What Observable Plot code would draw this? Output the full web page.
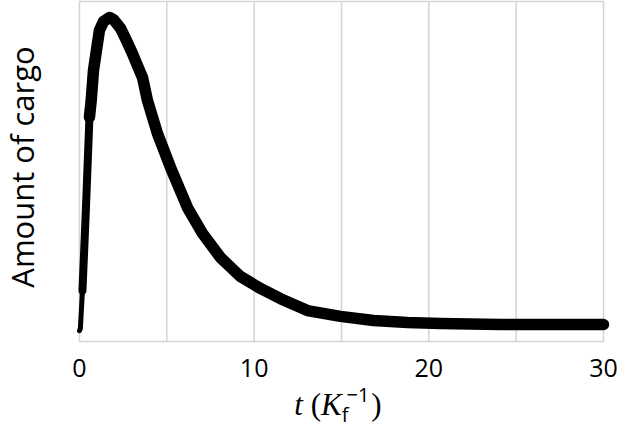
<!DOCTYPE html>
<html>
<head>
<meta charset="utf-8">
<script src="https://cdn.jsdelivr.net/npm/d3@7"></script>
<script src="https://cdn.jsdelivr.net/npm/@observablehq/plot@0.6"></script>
<style>
  html, body { margin: 0; padding: 0; background: #fff; }
  #chart svg { display: block; }
</style>
</head>
<body>
<div id="chart"></div>
<script>
// time (in units of K_f^-1)
const times = [0, 0.05, 0.17, 0.34, 0.57, 0.67, 0.8, 0.97, 1.14, 1.37, 1.72, 1.95, 2.35, 2.69, 3.03, 3.61, 3.89, 4.46, 5.21, 6.18, 7.04, 8.07, 9.22, 10.36, 11.51, 13.05, 14.94, 16.83, 18.77, 20.66, 24.1, 30];
// amount of cargo (arbitrary units)
const amount = [3.2, 3.8, 15, 35.6, 66, 70.9, 79.7, 85.6, 91.5, 94.1, 95.3, 94.7, 92.1, 88.5, 84.7, 77.6, 70.9, 61.2, 51.2, 39.4, 31.8, 24.7, 19.1, 15.6, 12.6, 9.1, 7.4, 6.2, 5.6, 5.3, 5.0, 5.0];
const xTicks = [0, 10, 20, 30];
const xGrid = [5, 10, 15, 20, 25];

const data = times.map((t, i) => ({t, v: amount[i]}));

const plot = Plot.plot({
  width: 617,
  height: 431,
  marginLeft: 79,
  marginRight: 14,
  marginTop: 1,
  marginBottom: 90,
  style: {fontFamily: "Open Sans", fontSize: "25px", color: "#000", background: "#fff"},
  x: {domain: [0, 30], ticks: xTicks, tickSize: 0, tickPadding: 18, label: null},
  y: {domain: [0, 100], axis: null},
  marks: [
    Plot.ruleX(xGrid, {stroke: "#d4d4d4", strokeWidth: 1.5}),
    Plot.frame({stroke: "#d4d4d4", strokeWidth: 1.5}),
    Plot.line(data.filter(d => d.t <= 0.2), {x: "t", y: "v", stroke: "#000", strokeWidth: 5}),
    Plot.line(data.filter(d => d.t >= 0.17 && d.t <= 0.8), {x: "t", y: "v", stroke: "#000", strokeWidth: 8}),
    Plot.line(data.filter(d => d.t >= 0.57), {x: "t", y: "v", stroke: "#000", strokeWidth: 11.5})
  ]
});

const ns = "http://www.w3.org/2000/svg";
// x label: t (K_f^-1)
const xl = document.createElementNS(ns, "text");
xl.setAttribute("x", 338);
xl.setAttribute("y", 415);
xl.setAttribute("text-anchor", "middle");
xl.setAttribute("font-size", 31);
xl.setAttribute("fill", "#000");
xl.innerHTML = '<tspan font-family="Liberation Serif" font-style="italic">t</tspan><tspan font-family="Liberation Serif"> (</tspan><tspan font-family="Liberation Serif" font-style="italic">K</tspan><tspan font-family="Open Sans" font-size="20" dy="7">f</tspan><tspan font-family="Open Sans" font-size="20" dx="-2" dy="-20">−1</tspan><tspan font-family="Liberation Serif" dx="2" dy="13">)</tspan>';
plot.appendChild(xl);

// y label
const yl = document.createElementNS(ns, "text");
yl.setAttribute("transform", "translate(34,167) rotate(-90)");
yl.setAttribute("text-anchor", "middle");
yl.setAttribute("font-size", 31);
yl.setAttribute("font-family", "Open Sans");
yl.setAttribute("fill", "#000");
yl.textContent = "Amount of cargo";
plot.appendChild(yl);

document.getElementById("chart").appendChild(plot);
</script>
</body>
</html>
